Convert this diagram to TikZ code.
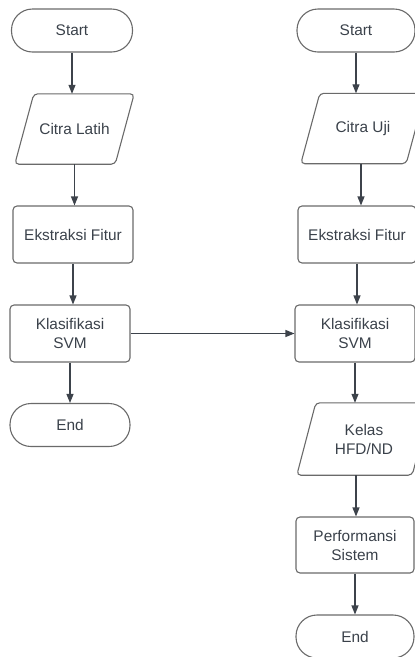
\documentclass[tikz,border=0pt]{standalone}
\usepackage{fontspec}
\setmainfont{Liberation Sans}
\usetikzlibrary{arrows.meta}
\definecolor{linec}{HTML}{3D434B}
\definecolor{borderc}{HTML}{6A6A6A}
\definecolor{textc}{HTML}{3A414A}
\begin{document}
\begin{tikzpicture}[x=1pt,y=-1pt,
  every node/.style={font=\fontsize{15.4}{19}\selectfont, text=textc, align=center, inner sep=0pt},
  terminal/.style={draw=borderc, line width=1.1pt, rectangle, rounded corners=21pt, minimum width=#1, minimum height=43pt},
  procbox/.style={draw=borderc, line width=1.1pt, rectangle, rounded corners=4pt, minimum width=#1, minimum height=57pt},
  iobox/.style={rectangle, minimum width=#1, minimum height=70pt},
  ioline/.style={draw=borderc, line width=1.1pt, rounded corners=4pt},
  flow/.style={draw=linec, line width=1.1pt, -{Triangle[length=9pt,width=7pt]}}
]
\useasboundingbox (0,0) rectangle (415,657);
% left column
\node[terminal=121pt] (s1) at (72,30.5) {Start};
\node[iobox=119pt] (c1) at (74.5,129) {Citra Latih};
\node[procbox=120pt] (e1) at (73,234.5) {Ekstraksi Fitur};
\node[procbox=120pt] (k1) at (70,333.5) {Klasifikasi\\SVM};
\node[terminal=120pt] (n1) at (70,425) {End};
% right column
\node[terminal=118pt] (s2) at (356,30.5) {Start};
\node[iobox=124pt] (c2) at (363,128.5) {Citra Uji};
\node[procbox=118pt] (e2) at (357,234.5) {Ekstraksi Fitur};
\node[procbox=120pt] (k2) at (355,333.5) {Klasifikasi\\SVM};
\node[iobox=134pt, minimum height=72pt] (kl) at (364,439) {Kelas\\HFD/ND};
\node[procbox=118pt, minimum height=56pt] (pf) at (355,545) {Performansi\\Sistem};
\node[terminal=118pt] (n2) at (355,636.5) {End};
% parallelogram outlines
\foreach \n in {c1,c2,kl}{
  \draw[ioline] ([xshift=19pt]\n.north west) -- (\n.north east) -- ([xshift=-19pt]\n.south east) -- (\n.south west) -- cycle;
}
% connectors
\draw[flow] (s1.south) -- (s1.south |- c1.north);
\draw[flow] (c1.south) -- (c1.south |- e1.north);
\draw[flow] (e1.south) -- (e1.south |- k1.north);
\draw[flow] (k1.south) -- (k1.south |- n1.north);
\draw[flow] (k1.east) -- (k2.west);
\draw[flow] (s2.south) -- (s2.south |- c2.north);
\draw[flow] ([xshift=-2pt]c2.south) -- ([xshift=-2pt]c2.south |- e2.north);
\draw[flow] (e2.south) -- (e2.south |- k2.north);
\draw[flow] (k2.south) -- (k2.south |- kl.north);
\draw[flow] ([xshift=-8pt]kl.south) -- ([xshift=-8pt]kl.south |- pf.north);
\draw[flow] (pf.south) -- (pf.south |- n2.north);
\end{tikzpicture}
\end{document}
